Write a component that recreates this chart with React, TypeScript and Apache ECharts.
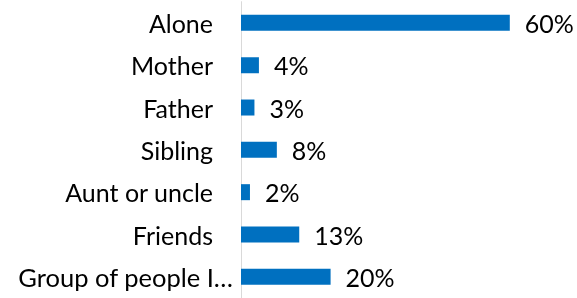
import React, { useEffect, useRef } from "react";
import * as echarts from "echarts";

const categories = [
  "Alone",
  "Mother",
  "Father",
  "Sibling",
  "Aunt or uncle",
  "Friends",
  "Group of people I…",
];
const values = [60, 4, 3, 8, 2, 13, 20];

export default function App() {
  const ref = useRef<HTMLDivElement>(null);
  useEffect(() => {
    if (!ref.current) return;
    const chart = echarts.init(ref.current, undefined, { renderer: "svg" });
    const lastIdx = categories.length - 1;
    const font = "Lato, sans-serif";
    chart.setOption({
      animation: false,
      grid: { left: 241, right: 22.4, top: 1.7, bottom: -6.1, containLabel: false },
      xAxis: {
        type: "value",
        min: 0,
        max: 70,
        show: false,
      },
      yAxis: {
        type: "category",
        data: categories,
        inverse: true,
        axisLine: { show: true, lineStyle: { color: "#d9d9d9", width: 1 } },
        axisTick: { show: false },
        axisLabel: {
          margin: 8,
          fontFamily: font,
          fontSize: 25,
          color: "#000",
          formatter: (v: string, i: number) => (i === lastIdx ? `{g|${v}}` : `{n|${v}}`),
          rich: {
            n: { padding: [0, 20, 0, 0], fontFamily: font, fontSize: 25, color: "#000" },
            g: { fontFamily: font, fontSize: 25.5, color: "#000" },
          },
        },
      },
      series: [
        {
          type: "bar",
          data: values,
          barWidth: 16,
          itemStyle: { color: "#0070C0" },
          label: {
            show: true,
            position: "right",
            distance: 15,
            formatter: "{c}%",
            fontFamily: font,
            fontSize: 25,
            color: "#000",
          },
        },
      ],
    });
    return () => chart.dispose();
  }, []);
  return (
    <div
      ref={ref}
      style={{ position: "fixed", left: 0, top: 0, width: 577, height: 298 }}
    />
  );
}
